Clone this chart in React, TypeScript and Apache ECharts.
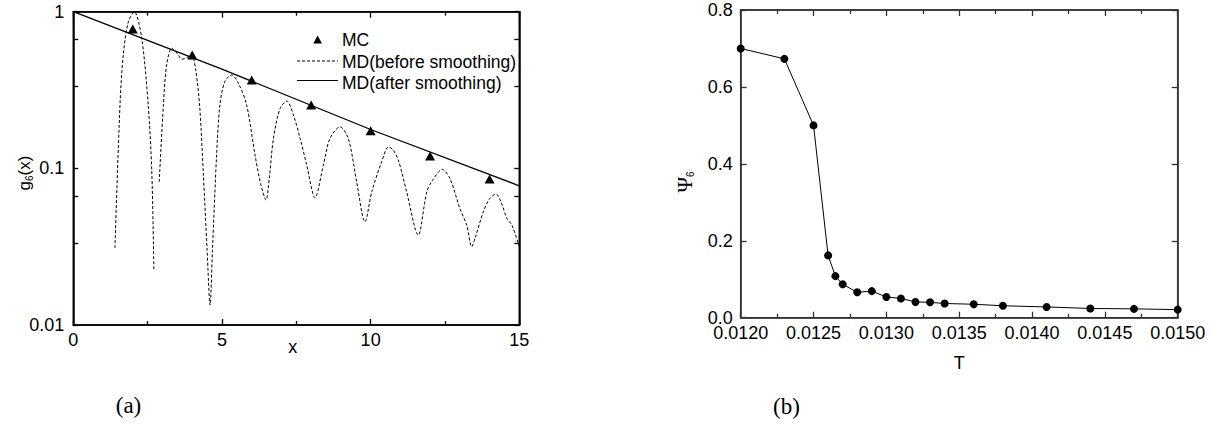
import React, { useEffect, useRef } from "react";
import * as echarts from "echarts";

// ---- panel (a): g6(x) ----
const mcX = [2, 4, 6, 8, 10, 12, 14];
const mcG = [0.775, 0.53, 0.366, 0.254, 0.174, 0.12, 0.0856];

const smoothX = [0, 5, 10, 15];
const smoothG = [1, 0.43, 0.177, 0.0774];

const rawX = [1.4, 1.57, 1.68, 1.85, 2.05, 2.3, 2.52, 2.64, 2.71, 2.8, 2.89, 3.03, 3.14, 3.31, 3.5, 3.65, 3.82, 3.98, 4.12, 4.25, 4.37, 4.5, 4.6, 4.68, 4.82, 4.93, 5.1, 5.33, 5.55, 5.83, 6.11, 6.3, 6.48, 6.6, 6.73, 6.95, 7.18, 7.4, 7.63, 7.85, 8.13, 8.41, 8.63, 8.97, 9.25, 9.53, 9.81, 10.04, 10.37, 10.6, 10.76, 10.95, 11.21, 11.6, 11.89, 12.1, 12.41, 12.67, 13.0, 13.23, 13.4, 13.51, 13.79, 14.0, 14.22, 14.4, 14.58, 14.75, 15.0];
const rawG = [0.031, 0.254, 0.53, 0.86, 1.0, 0.68, 0.254, 0.095, 0.0224, null, 0.082, 0.254, 0.457, 0.584, 0.54, 0.497, 0.51, 0.53, 0.42, 0.25, 0.095, 0.03, 0.0134, 0.03, 0.122, 0.254, 0.36, 0.394, 0.35, 0.254, 0.122, 0.08, 0.0628, 0.09, 0.155, 0.24, 0.269, 0.22, 0.155, 0.105, 0.0649, 0.105, 0.155, 0.184, 0.155, 0.082, 0.0456, 0.071, 0.11, 0.137, 0.131, 0.11, 0.071, 0.0375, 0.071, 0.085, 0.0985, 0.086, 0.0555, 0.0435, 0.0316, 0.0357, 0.0528, 0.064, 0.0685, 0.06, 0.048, 0.0435, 0.0316];

const yTicksA = [0.01, 0.0333, 0.0667, 0.1, 0.333, 0.667, 1];

// ---- panel (b): Psi6(T) ----
const tempT = [0.012, 0.0123, 0.0125, 0.0126, 0.01265, 0.0127, 0.0128, 0.0129, 0.013, 0.0131, 0.0132, 0.0133, 0.0134, 0.0136, 0.0138, 0.0141, 0.0144, 0.0147, 0.015];
const psi6 = [0.7, 0.673, 0.5, 0.162, 0.108, 0.087, 0.066, 0.069, 0.054, 0.05, 0.041, 0.04, 0.037, 0.035, 0.031, 0.028, 0.024, 0.023, 0.021];

const SANS = "Liberation Sans";
const SERIF = "Liberation Serif";

function buildOption(): any {
  const lbl = { fontSize: 18, lineHeight: 15, fontFamily: SANS, color: "#000" };
  const frameLine = (c: string) => ({ show: true, onZero: false, lineStyle: { color: c, width: 1.5 } });
  const tick = (c: string, len: number, extra: any = {}) => ({
    show: true, inside: true, length: len, lineStyle: { color: c, width: 1.3 }, ...extra,
  });
  const minor = (c: string) => ({ show: true, splitNumber: 2, length: 4, lineStyle: { color: c, width: 1.3 } });

  return {
    animation: false,
    backgroundColor: "#fff",
    grid: [
      { left: 73.3, top: 11.7, width: 446, height: 313.3, show: true, borderColor: "#000", borderWidth: 1.5, backgroundColor: "transparent" },
      { left: 740.7, top: 10, width: 437, height: 307.7, show: true, borderColor: "#333", borderWidth: 1.5, backgroundColor: "transparent" },
    ],
    xAxis: [
      {
        gridIndex: 0, type: "value", min: 0, max: 15, interval: 5,
        axisLine: frameLine("#000"), axisTick: tick("#000", 6), minorTick: minor("#000"),
        splitLine: { show: false }, axisLabel: { ...lbl, margin: 7 },
      },
      {
        gridIndex: 0, type: "value", position: "top", min: 0, max: 15, interval: 5,
        axisLine: frameLine("#000"), axisTick: tick("#000", 6), minorTick: minor("#000"),
        splitLine: { show: false }, axisLabel: { show: false },
      },
      {
        gridIndex: 1, type: "value", min: 0.012, max: 0.015, interval: 0.0005,
        axisLine: frameLine("#333"), axisTick: tick("#333", 6), minorTick: minor("#333"),
        splitLine: { show: false },
        axisLabel: { ...lbl, margin: 8, formatter: (v: number) => v.toFixed(4) },
      },
      {
        gridIndex: 1, type: "value", position: "top", min: 0.012, max: 0.015, interval: 0.0005,
        axisLine: frameLine("#333"), axisTick: tick("#333", 6), minorTick: minor("#333"),
        splitLine: { show: false }, axisLabel: { show: false },
      },
    ],
    yAxis: [
      {
        gridIndex: 0, type: "log", logBase: 10, min: 0.01, max: 1,
        axisLine: frameLine("#000"), axisTick: tick("#000", 5, { customValues: yTicksA }),
        splitLine: { show: false },
        axisLabel: { ...lbl, margin: 9, formatter: (v: number) => String(+v.toPrecision(3)) },
      },
      {
        gridIndex: 0, type: "log", logBase: 10, min: 0.01, max: 1, position: "right",
        axisLine: frameLine("#000"), axisTick: tick("#000", 5, { customValues: yTicksA }),
        splitLine: { show: false }, axisLabel: { show: false },
      },
      {
        gridIndex: 1, type: "value", min: 0, max: 0.8, interval: 0.2,
        axisLine: frameLine("#333"), axisTick: tick("#333", 6),
        splitLine: { show: false },
        axisLabel: { ...lbl, margin: 8, formatter: (v: number) => v.toFixed(1) },
      },
      {
        gridIndex: 1, type: "value", min: 0, max: 0.8, interval: 0.2, position: "right",
        axisLine: frameLine("#333"), axisTick: tick("#333", 6),
        splitLine: { show: false }, axisLabel: { show: false },
      },
    ],
    series: [
      {
        name: "MD(before smoothing)", type: "line", xAxisIndex: 0, yAxisIndex: 0,
        data: rawX.map((x, i) => [x, rawG[i]]),
        showSymbol: false, symbol: "none", smooth: 0.3, connectNulls: false,
        lineStyle: { color: "#000", width: 1, type: [3, 2] },
      },
      {
        name: "MD(after smoothing)", type: "line", xAxisIndex: 0, yAxisIndex: 0,
        data: smoothX.map((x, i) => [x, smoothG[i]]),
        showSymbol: false, symbol: "none",
        lineStyle: { color: "#000", width: 1.3 },
      },
      {
        name: "MC", type: "scatter", xAxisIndex: 0, yAxisIndex: 0,
        data: mcX.map((x, i) => [x, mcG[i]]),
        symbol: "triangle", symbolSize: [10, 9],
        itemStyle: { color: "#000", opacity: 1 },
      },
      {
        name: "Psi6", type: "line", xAxisIndex: 2, yAxisIndex: 2,
        data: tempT.map((t, i) => [t, psi6[i]]),
        symbol: "circle", symbolSize: 8, showSymbol: true, clip: false,
        itemStyle: { color: "#000", opacity: 1 },
        lineStyle: { color: "#000", width: 1 },
      },
    ],
    graphic: [
      { type: "polygon", shape: { points: [[313.3, 43.5], [322, 43.5], [317.6, 35.5]] }, style: { fill: "#000" } },
      { type: "line", shape: { x1: 297, y1: 61, x2: 338, y2: 61 }, style: { stroke: "#000", lineWidth: 1, lineDash: [3, 2] } },
      { type: "line", shape: { x1: 297, y1: 80.5, x2: 338, y2: 80.5 }, style: { stroke: "#000", lineWidth: 1.2 } },
      { type: "text", x: 342, y: 39.5, style: { text: "MC", fontSize: 17.5, fontFamily: SANS, fill: "#000", verticalAlign: "middle" } },
      { type: "text", x: 342, y: 62, style: { text: "MD(before smoothing)", fontSize: 17.5, fontFamily: SANS, fill: "#000", verticalAlign: "middle" } },
      { type: "text", x: 342, y: 82.5, style: { text: "MD(after smoothing)", fontSize: 17.5, fontFamily: SANS, fill: "#000", verticalAlign: "middle" } },
      { type: "text", x: 292.7, y: 347, style: { text: "x", fontSize: 18, fontFamily: SANS, fill: "#000", align: "center", verticalAlign: "middle" } },
      { type: "text", x: 959.3, y: 362.5, style: { text: "T", fontSize: 18, fontFamily: SANS, fill: "#000", align: "center", verticalAlign: "middle" } },
      {
        type: "text", x: 24, y: 173, rotation: Math.PI / 2,
        style: {
          text: "{a|g}{b|6}{a|(x)}", align: "center", verticalAlign: "middle", fill: "#000",
          rich: {
            a: { fontSize: 17, fontFamily: SANS, fill: "#000" },
            b: { fontSize: 10, fontFamily: SANS, fill: "#000", padding: [10, 0, 0, 0] },
          },
        },
      },
      {
        type: "text", x: 685, y: 182, rotation: Math.PI / 2,
        style: {
          text: "{p|Ψ}{s|6}", align: "center", verticalAlign: "middle", fill: "#000",
          rich: {
            p: { fontSize: 21, fontFamily: SERIF, fill: "#000" },
            s: { fontSize: 10, fontFamily: SANS, fill: "#000", padding: [10, 0, 0, 0] },
          },
        },
      },
      { type: "text", x: 128.5, y: 405, style: { text: "(a)", fontSize: 23, fontFamily: SERIF, fill: "#000", align: "center", verticalAlign: "middle" } },
      { type: "text", x: 786.5, y: 406, style: { text: "(b)", fontSize: 23, fontFamily: SERIF, fill: "#000", align: "center", verticalAlign: "middle" } },
    ],
  };
}

export default function App() {
  const ref = useRef<HTMLDivElement>(null);
  useEffect(() => {
    if (!ref.current) return;
    const chart = echarts.init(ref.current, undefined, { renderer: "svg" });
    chart.setOption(buildOption());
    return () => chart.dispose();
  }, []);
  return (
    <div style={{ position: "fixed", left: 0, top: 0, width: 1212, height: 424 }}>
      <div ref={ref} style={{ width: 1212, height: 424 }} />
    </div>
  );
}
